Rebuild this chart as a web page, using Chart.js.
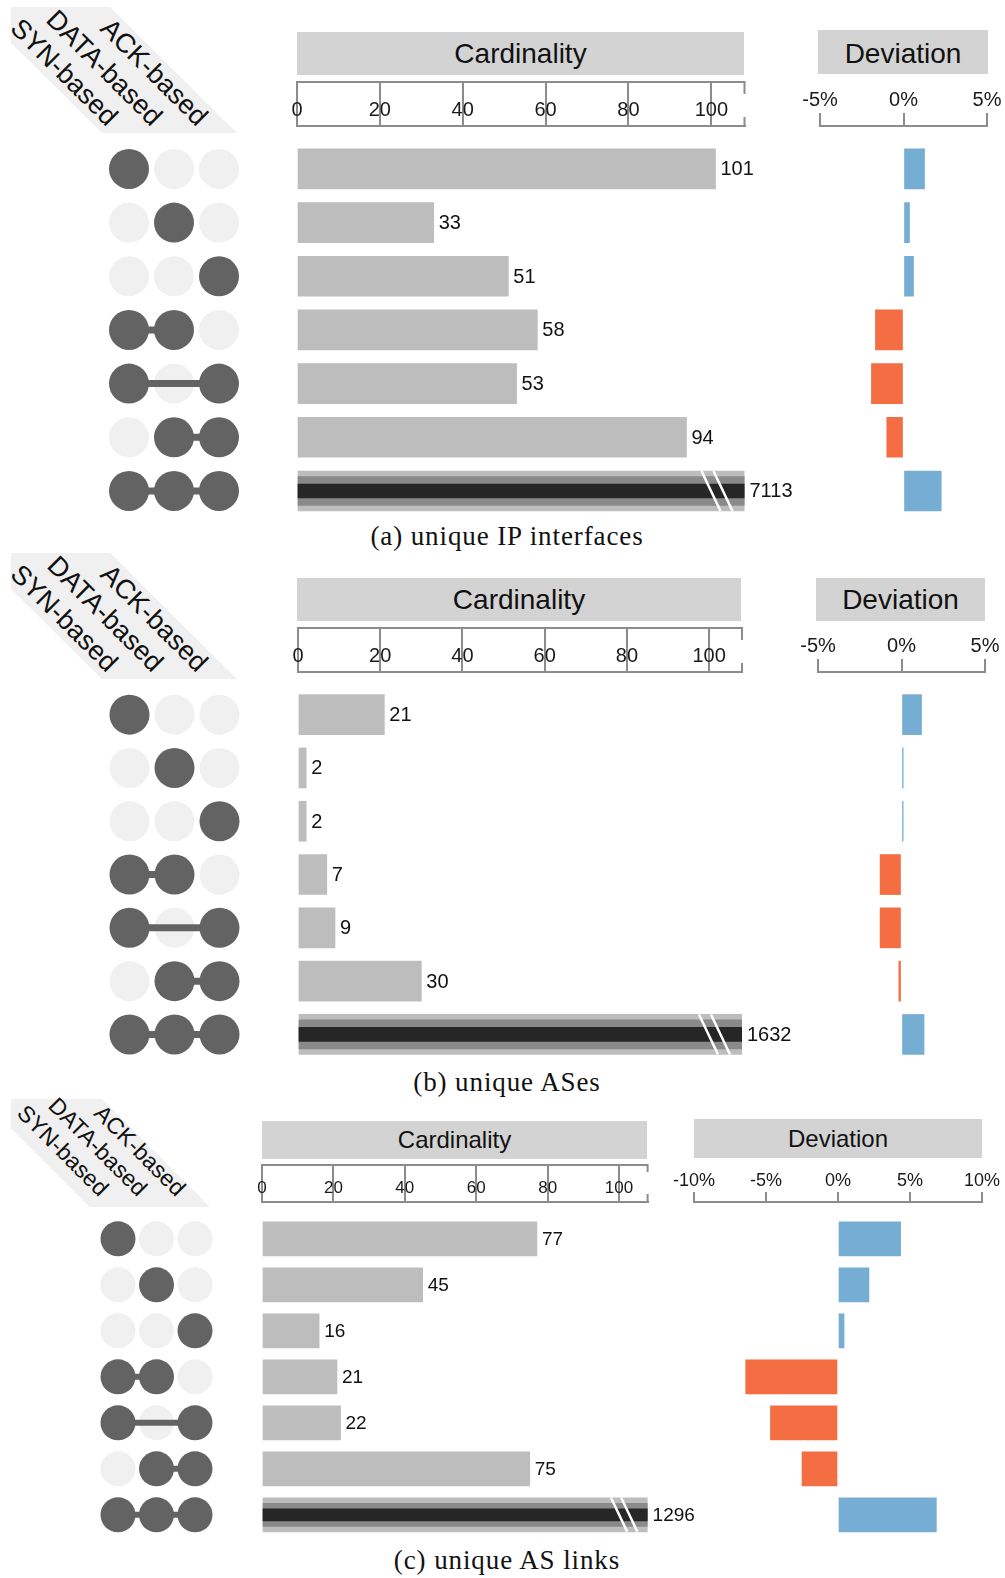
<!DOCTYPE html>
<html>
<head>
<meta charset="utf-8">
<title>Set intersections: cardinality and deviation</title>
<script src="https://cdn.jsdelivr.net/npm/chart.js@4.4.1/dist/chart.umd.min.js"></script>
<style>
  html, body { margin: 0; padding: 0; background: #fff; }
  #page { position: relative; width: 1005px; height: 1578px; overflow: hidden;
          font-family: 'Liberation Sans', Arial, sans-serif; color: #111; background: #fff; }
  canvas { position: absolute; }
  .head { position: absolute; background: #d3d3d3; text-align: center; color: #111; box-sizing: border-box; }
  .sets { position: absolute; background: #f0f0f0; }
  .setlab { position: absolute; width: 0; height: 0; }
  .setlab span { position: absolute; right: 0; white-space: nowrap; color: #111;
                 transform-origin: 100% 50%; transform: rotate(45deg); }
  .caption { position: absolute; left: 0; width: 1014px; text-align: center; color: #111;
             font-family: 'Liberation Serif', 'Times New Roman', serif; }
</style>
</head>
<body>
<div id="page"></div>
<script>
// ---- data ---------------------------------------------------------------
const setNames = ['SYN-based', 'DATA-based', 'ACK-based'];
// which sets each intersection row contains (columns follow setNames)
const membership = [
  [1, 0, 0],
  [0, 1, 0],
  [0, 0, 1],
  [1, 1, 0],
  [1, 0, 1],
  [0, 1, 1],
  [1, 1, 1]
];
const ipCardinality   = [101, 33, 51, 58, 53, 94, 7113];
const ipDeviation     = [1.26, 0.36, 0.6, -1.68, -1.92, -1.0, 2.26];
const asCardinality   = [21, 2, 2, 7, 9, 30, 1632];
const asDeviation     = [1.2, 0.1, 0.1, -1.28, -1.28, -0.16, 1.35];
const linkCardinality = [77, 45, 16, 21, 22, 75, 1296];
const linkDeviation   = [4.35, 2.15, 0.42, -6.41, -4.69, -2.5, 6.83];
const cardinalityTicks = [0, 20, 40, 60, 80, 100];
const deviationTicksNarrow = [-5, 0, 5];
const deviationTicksWide = [-10, -5, 0, 5, 10];
const captions = ['(a) unique IP interfaces', '(b) unique ASes', '(c) unique AS links'];

// ---- look ---------------------------------------------------------------
Chart.defaults.font.family = "'Liberation Sans', Arial, sans-serif";
Chart.defaults.color = '#1a1a1a';
const AXIS_GREY = '#8c8c8c';
const BAR_GREY = '#bdbdbd';
const MID_GREY = '#8a8a8a';
const DARK_GREY = '#262626';
const DOT_ON = '#636363';
const DOT_OFF = '#f0f0f0';
const POS_COLOR = '#76aed3';
const NEG_COLOR = '#f46d43';
const PAGE_W = 1005;

// geometry of the three stacked panels
const layouts = [
  {
    areaTop: 126, rowH: 53.67, axisH: 45,
    dotsL: 106.5, dotsR: 241.5, dotR: 20, linkW: 7,
    cardL: 297, cardR: 744.5, cardMax: 108, barT: 40, midT: 29, darkT: 14,
    cardTickFont: 20, cardPad: -41, valueFont: 20, endTop: 13, endBottom: 9,
    devL: 820, devR: 987, devTickFont: 20, devTickLen: 13, devPad: 0.5,
    shape: { x: 11, y: 7, w: 226, h: 126, poly: '0px 0px, 99px 0px, 226px 126px, 91px 126px, 0px 36px' },
    setFont: 27, setEndDx: -16, setEndY: 121,
    cardHead: [297, 32, 447, 43, 0], devHead: [818, 30, 170, 44, 3], headFont: 28,
    captionY: 536, captionFont: 27
  },
  {
    areaTop: 672, rowH: 53.3, axisH: 45,
    dotsL: 107, dotsR: 242, dotR: 20, linkW: 7,
    cardL: 298, cardR: 742, cardMax: 108, barT: 40, midT: 29, darkT: 14,
    cardTickFont: 20, cardPad: -41, valueFont: 20, endTop: 13, endBottom: 9,
    devL: 818, devR: 985, devTickFont: 20, devTickLen: 13, devPad: 0.5,
    shape: { x: 11, y: 553, w: 226, h: 126, poly: '0px 0px, 99px 0px, 226px 126px, 91px 126px, 0px 36px' },
    setFont: 27, setEndDx: -16, setEndY: 667,
    cardHead: [297, 578, 444, 43, 0], devHead: [816, 578, 169, 43, 0], headFont: 28,
    captionY: 1082, captionFont: 27
  },
  {
    areaTop: 1202, rowH: 46, axisH: 38,
    dotsL: 98.75, dotsR: 214.25, dotR: 17.5, linkW: 6,
    cardL: 262, cardR: 647.6, cardMax: 108, barT: 34, midT: 23, darkT: 12,
    cardTickFont: 17, cardPad: -35, valueFont: 19, endTop: 8, endBottom: 8,
    devL: 694, devR: 982, devTickFont: 18, devTickLen: 10, devPad: 0.5,
    shape: { x: 11, y: 1099, w: 199, h: 108, poly: '0px 0px, 91px 0px, 199px 108px, 79px 108px, 0px 29px' },
    setFont: 23, setEndDx: -13, setEndY: 1192,
    cardHead: [262, 1121, 385, 38, 0], devHead: [694, 1119, 288, 39, 0], headFont: 24,
    captionY: 1560, captionFont: 27
  }
];

const panels = [
  { caption: captions[0], card: ipCardinality, dev: ipDeviation, devTicks: deviationTicksNarrow },
  { caption: captions[1], card: asCardinality, dev: asDeviation, devTicks: deviationTicksNarrow },
  { caption: captions[2], card: linkCardinality, dev: linkDeviation, devTicks: deviationTicksWide }
];

const page = document.getElementById('page');

function addCanvas(left, top, width, height) {
  const c = document.createElement('canvas');
  c.width = width; c.height = height;
  c.style.left = left + 'px'; c.style.top = top + 'px';
  c.style.width = width + 'px'; c.style.height = height + 'px';
  page.appendChild(c);
  return c;
}

function addHead(text, box, font) {
  const d = document.createElement('div');
  d.className = 'head';
  d.textContent = text;
  d.style.left = box[0] + 'px'; d.style.top = box[1] + 'px';
  d.style.width = box[2] + 'px'; d.style.height = box[3] + 'px';
  d.style.paddingTop = box[4] + 'px';
  d.style.lineHeight = (box[3] - box[4]) + 'px';
  d.style.fontSize = font + 'px';
  page.appendChild(d);
}

function baseOptions(pad) {
  return {
    responsive: false, maintainAspectRatio: false, animation: false, events: [], devicePixelRatio: 1,
    layout: { padding: pad, autoPadding: false },
    plugins: { legend: { display: false }, tooltip: { enabled: false } }
  };
}

function buildPanel(P, L) {
  // header boxes
  addHead('Cardinality', L.cardHead, L.headFont);
  addHead('Deviation', L.devHead, L.headFont);

  // slanted set-name header
  const sh = document.createElement('div');
  sh.className = 'sets';
  sh.style.left = L.shape.x + 'px'; sh.style.top = L.shape.y + 'px';
  sh.style.width = L.shape.w + 'px'; sh.style.height = L.shape.h + 'px';
  sh.style.clipPath = 'polygon(' + L.shape.poly + ')';
  page.appendChild(sh);

  const colW = (L.dotsR - L.dotsL) / setNames.length;
  setNames.forEach((name, c) => {
    const a = document.createElement('div');
    a.className = 'setlab';
    a.style.left = (L.dotsL + (c + 0.5) * colW + L.setEndDx) + 'px';
    a.style.top = L.setEndY + 'px';
    const s = document.createElement('span');
    s.textContent = name;
    s.style.fontSize = L.setFont + 'px';
    s.style.lineHeight = '30px';
    s.style.top = '-15px';
    a.appendChild(s);
    page.appendChild(a);
  });

  // caption
  const cap = document.createElement('div');
  cap.className = 'caption';
  cap.textContent = P.caption;
  cap.style.top = (L.captionY - 18) + 'px';
  cap.style.lineHeight = '36px';
  cap.style.fontSize = L.captionFont + 'px';
  cap.style.letterSpacing = '0.9px';
  page.appendChild(cap);

  // shared vertical geometry: rows sit on a linear index scale
  const nRows = membership.length;
  const yMin = -0.8, yMax = nRows - 0.5;
  const areaH = (yMax - yMin) * L.rowH;
  const cTop = Math.floor(L.areaTop - L.axisH - 8);
  const padTop = L.areaTop - L.axisH - cTop;
  const cH = Math.ceil(L.areaTop + areaH + 6 - cTop);
  const padBottom = cTop + cH - (L.areaTop + areaH);
  const rowScale = () => ({
    type: 'linear', display: false, reverse: true, min: yMin, max: yMax,
    offset: false, grid: { offset: false },
    afterBuildTicks: s => { s.ticks = membership.map((_, i) => ({ value: i })); }
  });

  // ---- membership matrix
  {
    const cL = Math.floor(L.dotsL - 10);
    const cW = Math.ceil(L.dotsR + 10) - cL;
    const on = [], off = [];
    membership.forEach((row, r) => row.forEach((m, c) => (m ? on : off).push({ x: c, y: r })));
    const links = [];
    membership.forEach((row, r) => {
      const idx = row.map((m, c) => (m ? c : -1)).filter(c => c >= 0);
      if (idx.length > 1) links.push({ r, a: idx[0], b: idx[idx.length - 1] });
    });
    const datasets = [
      { data: on, pointRadius: L.dotR, backgroundColor: DOT_ON, pointBackgroundColor: DOT_ON,
        pointBorderWidth: 0, showLine: false, order: 0 }
    ];
    links.forEach(l => datasets.push({
      data: [{ x: l.a, y: l.r }, { x: l.b, y: l.r }], showLine: true, borderColor: DOT_ON,
      borderWidth: L.linkW, pointRadius: 0, order: 1
    }));
    datasets.push({ data: off, pointRadius: L.dotR, backgroundColor: DOT_OFF, pointBackgroundColor: DOT_OFF,
      pointBorderWidth: 0, showLine: false, order: 2 });
    const opts = baseOptions({ left: L.dotsL - cL, right: cL + cW - L.dotsR, top: padTop + L.axisH, bottom: padBottom });
    opts.scales = {
      x: { type: 'linear', display: false, offset: false, min: -0.5, max: setNames.length - 0.5 },
      y: rowScale()
    };
    new Chart(addCanvas(cL, cTop, cW, cH), { type: 'scatter', data: { datasets }, options: opts });
  }

  // ---- cardinality bars
  {
    const values = P.card;
    const cL = Math.floor(L.cardL - 20);
    const cW = Math.ceil(L.cardR + 70) - cL;
    const pts = values.map((v, i) => ({ x: v, y: i }));
    const over = pts.filter(d => d.x > L.cardMax);
    const opts = baseOptions({ left: L.cardL - cL, right: cL + cW - L.cardR, top: padTop, bottom: padBottom });
    opts.indexAxis = 'y';
    opts.scales = {
      x: {
        type: 'linear', position: 'top', min: 0, max: L.cardMax, offset: false,
        afterFit: s => { s.height = L.axisH; },
        afterBuildTicks: s => { s.ticks = cardinalityTicks.map(v => ({ value: v })); },
        grid: { drawOnChartArea: false, drawTicks: true, tickLength: L.axisH, color: AXIS_GREY, lineWidth: 2, offset: false },
        border: { display: true, color: AXIS_GREY, width: 2 },
        ticks: { autoSkip: false, maxRotation: 0, padding: L.cardPad, color: '#1a1a1a',
                 font: { size: L.cardTickFont }, callback: v => String(v) }
      },
      y: rowScale()
    };
    // upper rail of the bracket-shaped axis and its closing end ticks
    const bracket = {
      id: 'bracketTop',
      afterDraw(chart) {
        const s = chart.scales.x, ctx = chart.ctx;
        ctx.save();
        ctx.strokeStyle = AXIS_GREY; ctx.lineWidth = 2;
        ctx.beginPath();
        ctx.moveTo(s.left - 1, s.top + 1);
        ctx.lineTo(s.right + 1, s.top + 1);
        ctx.moveTo(s.right, s.top);
        ctx.lineTo(s.right, s.top + L.endTop);
        ctx.moveTo(s.right, s.bottom);
        ctx.lineTo(s.right, s.bottom - L.endBottom);
        ctx.stroke();
        ctx.restore();
      }
    };
    const valueLabels = {
      id: 'valueLabels',
      afterDatasetsDraw(chart) {
        const ctx = chart.ctx, area = chart.chartArea;
        const meta = chart.getDatasetMeta(0);
        ctx.save();
        meta.data.forEach((bar, i) => {
          const v = values[i];
          const p = bar.getProps(['x', 'y'], true);
          if (v > L.cardMax) {
            // axis break marks on the clipped bar
            const t = L.barT, top = p.y - t / 2, bot = p.y + t / 2;
            ctx.strokeStyle = '#ffffff'; ctx.lineWidth = 2.5;
            [[1.075, 0.6], [0.775, 0.3]].forEach(([a, b]) => {
              ctx.beginPath();
              ctx.moveTo(area.right - a * t, top);
              ctx.lineTo(area.right - b * t, bot);
              ctx.stroke();
            });
          }
          ctx.fillStyle = '#111';
          ctx.font = L.valueFont + "px 'Liberation Sans', Arial, sans-serif";
          ctx.textAlign = 'left'; ctx.textBaseline = 'middle';
          ctx.fillText(String(v), Math.min(p.x, area.right) + 5, p.y + 1);
        });
        ctx.restore();
      }
    };
    new Chart(addCanvas(cL, cTop, cW, cH), {
      type: 'bar',
      data: {
        datasets: [
          { data: pts, backgroundColor: BAR_GREY, barThickness: L.barT, clip: 0, order: 2 },
          { data: over, backgroundColor: MID_GREY, barThickness: L.midT, grouped: false, clip: 0, order: 1 },
          { data: over, backgroundColor: DARK_GREY, barThickness: L.darkT, grouped: false, clip: 0, order: 0 }
        ]
      },
      options: opts,
      plugins: [bracket, valueLabels]
    });
  }

  // ---- deviation bars
  {
    const dev = P.dev, ticks = P.devTicks;
    const cL = Math.floor(L.devL - 40);
    const cW = PAGE_W - cL;
    const opts = baseOptions({ left: L.devL - cL, right: PAGE_W - L.devR, top: padTop, bottom: padBottom });
    opts.indexAxis = 'y';
    opts.scales = {
      x: {
        type: 'linear', position: 'top', min: ticks[0], max: ticks[ticks.length - 1], offset: false,
        afterFit: s => { s.height = L.axisH; },
        afterBuildTicks: s => { s.ticks = ticks.map(v => ({ value: v })); },
        grid: { drawOnChartArea: false, drawTicks: true, tickLength: L.devTickLen, color: AXIS_GREY, lineWidth: 2, offset: false },
        border: { display: true, color: AXIS_GREY, width: 2 },
        ticks: { autoSkip: false, maxRotation: 0, padding: L.devPad, color: '#1a1a1a',
                 font: { size: L.devTickFont }, callback: v => v + '%' }
      },
      y: rowScale()
    };
    new Chart(addCanvas(cL, cTop, cW, cH), {
      type: 'bar',
      data: {
        datasets: [{
          data: dev.map((v, i) => ({ x: v, y: i })),
          backgroundColor: dev.map(v => (v >= 0 ? POS_COLOR : NEG_COLOR)),
          barThickness: L.barT, clip: 0
        }]
      },
      options: opts
    });
  }
}

panels.forEach((P, i) => buildPanel(P, layouts[i]));
</script>
</body>
</html>
